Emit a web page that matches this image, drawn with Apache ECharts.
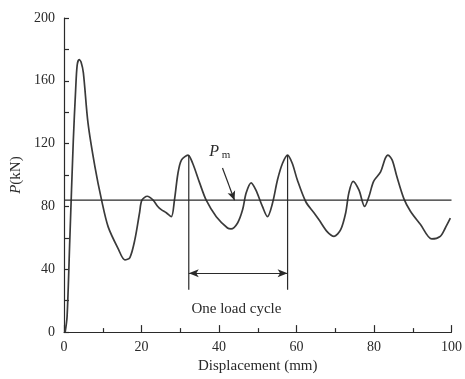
<!DOCTYPE html>
<html>
<head>
<meta charset="utf-8">
<script src="https://cdn.jsdelivr.net/npm/echarts@6/dist/echarts.min.js"></script>
<style>
  html, body { margin: 0; padding: 0; background: #fff; }
  #chart { width: 465px; height: 379px; }
</style>
</head>
<body>
<div id="chart"></div>
<script>
// load-displacement curve
const dispMm = [0.3, 0.8, 1.5, 2.4, 3.0, 3.4, 3.9, 4.4, 5.0, 6.2, 8.0, 9.7, 11.4, 14.0, 15.7, 17.0, 18.3, 19.5, 20.1,
  21.5, 23.0, 24.2, 25.1, 26.4, 27.7, 28.5, 29.4, 30.3, 32.0, 33.2, 35.0, 36.7, 39.3, 42.2, 43.1,
  44.8, 46.1, 47.0, 48.3, 49.5, 51.2, 52.5, 53.8, 55.1, 56.4, 57.7, 58.9, 60.2, 62.4, 64.5, 65.8,
  67.9, 69.7, 71.4, 72.7, 73.5, 74.6, 76.1, 77.6, 78.7, 79.9, 81.7, 82.9, 83.6, 84.7, 85.9, 87.7,
  89.4, 92.0, 94.9, 97.1, 98.4, 99.7];
const loadKn = [0, 10, 59, 122, 154, 170, 173.5, 172, 165, 133, 105, 84, 67, 53, 46, 47.5, 59, 76, 84,
  86.5, 84, 80, 78, 76, 73.5, 84, 101, 109.5, 112.7, 107.5, 95, 84, 73.5, 66.3, 65.7,
  69.5, 78, 88.5, 95, 90.5, 80, 73.5, 82, 97, 107.5, 112.7, 107.5, 97, 83, 76, 71.5,
  64, 61, 65.2, 76, 88.5, 96, 90.5, 80, 86.3, 96, 102, 110.6, 112.7, 109.5, 99, 85,
  77, 68.5, 59.3, 61, 66.3, 72.5];

const meanLoad = 84;           // P_m
const cycleStart = 32.2;       // peaks bounding one load cycle
const cycleEnd = 57.7;
const cyclePeak = 112.7;
const cycleLineBottom = 27;
const cycleArrowY = 37.5;

const xTicks = [0, 20, 40, 60, 80, 100];
const yTicks = [0, 40, 80, 120, 160, 200];

const font = "'Liberation Serif', 'DejaVu Serif', serif";
const ink = '#2a2a2a';

const chart = echarts.init(document.getElementById('chart'), null, { renderer: 'canvas' });

const option = {
  backgroundColor: '#fff',
  animation: false,
  grid: { left: 64, right: 12, top: 18, bottom: 46, containLabel: false },
  xAxis: {
    type: 'value',
    min: xTicks[0],
    max: xTicks[xTicks.length - 1],
    interval: 20,
    name: 'Displacement (mm)',
    nameLocation: 'middle',
    nameGap: 26,
    nameTextStyle: { fontFamily: font, fontSize: 15, color: ink },
    axisLine: { lineStyle: { color: ink, width: 1.2 } },
    axisTick: { inside: true, length: 7, lineStyle: { color: ink, width: 1.2 } },
    minorTick: { show: true, splitNumber: 2, length: 4, lineStyle: { color: ink, width: 1.2 } },
    axisLabel: { fontFamily: font, fontSize: 14, color: ink, margin: 8 },
    splitLine: { show: false }
  },
  yAxis: {
    type: 'value',
    min: yTicks[0],
    max: yTicks[yTicks.length - 1],
    interval: 40,
    name: '{i|P}(kN)',
    nameLocation: 'middle',
    nameGap: 35,
    nameRotate: 90,
    nameTextStyle: {
      fontFamily: font, fontSize: 15, color: ink,
      rich: { i: { fontFamily: font, fontSize: 15, fontStyle: 'italic', color: ink } }
    },
    axisLine: { show: true, lineStyle: { color: ink, width: 1.2 } },
    axisTick: { show: true, inside: true, length: 5, lineStyle: { color: ink, width: 1.2 } },
    minorTick: { show: true, splitNumber: 2, length: 5, lineStyle: { color: ink, width: 1.2 } },
    axisLabel: { fontFamily: font, fontSize: 14, color: ink, margin: 9 },
    splitLine: { show: false }
  },
  series: [
    {
      name: 'load',
      type: 'line',
      data: dispMm.map((x, i) => [x, loadKn[i]]),
      smooth: 0.3,
      showSymbol: false,
      lineStyle: { color: '#3a3a3a', width: 1.7 },
      z: 3
    },
    {
      name: 'Pm',
      type: 'line',
      data: [[0, meanLoad], [100, meanLoad]],
      showSymbol: false,
      lineStyle: { color: ink, width: 1.2 },
      markLine: {
        silent: true,
        symbol: ['none', 'arrow'],
        symbolSize: [6, 9],
        lineStyle: { color: ink, width: 1.2, type: 'solid' },
        label: { show: false },
        data: [[{ coord: [40.9, 104.5] }, { coord: [44, meanLoad] }]]
      },
      markPoint: {
        symbol: 'circle',
        symbolSize: 0,
        data: [{
          coord: [40.2, 115],
          label: {
            show: true,
            formatter: '{p|P}{m| m}',
            position: 'inside',
            rich: {
              p: { fontFamily: font, fontSize: 16, fontStyle: 'italic', color: ink },
              m: { fontFamily: font, fontSize: 11, color: ink, padding: [8, 0, 0, 0] }
            }
          }
        }]
      }
    },
    {
      name: 'cycleStart',
      type: 'line',
      data: [[cycleStart, cyclePeak], [cycleStart, cycleLineBottom]],
      showSymbol: false,
      lineStyle: { color: ink, width: 1.2 }
    },
    {
      name: 'cycleEnd',
      type: 'line',
      data: [[cycleEnd, cyclePeak], [cycleEnd, cycleLineBottom]],
      showSymbol: false,
      lineStyle: { color: ink, width: 1.2 },
      markLine: {
        silent: true,
        symbol: ['arrow', 'arrow'],
        symbolSize: [6, 10],
        lineStyle: { color: ink, width: 1.2, type: 'solid' },
        label: { show: false },
        data: [[{ coord: [cycleStart, cycleArrowY] }, { coord: [cycleEnd, cycleArrowY] }]]
      },
      markPoint: {
        symbol: 'circle',
        symbolSize: 0,
        data: [{
          coord: [44.5, 14.5],
          label: {
            show: true,
            formatter: 'One load cycle',
            position: 'inside',
            fontFamily: font,
            fontSize: 15,
            color: ink
          }
        }]
      }
    }
  ]
};

chart.setOption(option);
</script>
</body>
</html>
